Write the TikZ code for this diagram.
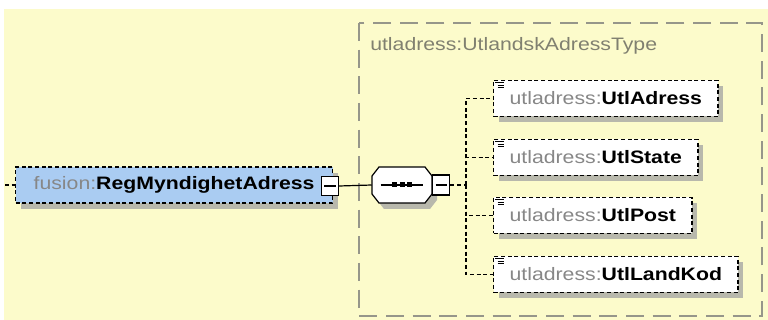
\documentclass[tikz,border=0pt]{standalone}
\usepackage{fontspec}
\newfontfamily\xsdfont[FakeStretch=1.18]{Liberation Sans}
\usetikzlibrary{positioning,shadows}

\definecolor{bgyellow}{RGB}{252,251,203}
\definecolor{elemblue}{RGB}{170,204,242}
\definecolor{pfxgray}{RGB}{135,135,135}
\definecolor{typegray}{RGB}{128,128,112}
\definecolor{shadowgray}{RGB}{184,184,172}
\definecolor{framegray}{RGB}{150,150,138}

\newcommand{\pfx}[1]{\textcolor{pfxgray}{#1}}

\tikzset{
  elemshadow/.style={drop shadow={shadow xshift=4pt, shadow yshift=-4.5pt,
      fill=shadowgray, opacity=1}},
  elembox/.style={rectangle, draw=black, line width=0.9pt,
      dash pattern=on 3pt off 2pt, elemshadow, minimum height=27pt,
      inner xsep=12pt, inner ysep=0pt,
      font=\xsdfont\fontsize{13.5pt}{16pt}\selectfont},
  childbox/.style={elembox, fill=white, anchor=west},
  minusbox/.style={rectangle, draw=black, fill=white, line width=0.9pt,
      minimum width=12.75pt, minimum height=14pt, inner sep=0pt},
  conn/.style={draw=black, line width=0.9pt, dash pattern=on 3pt off 2pt},
  octagon/.style={line width=0.9pt},
}

\begin{document}
\begin{tikzpicture}[x=0.75pt, y=-0.75pt]
\useasboundingbox (0,0) rectangle (768,320);

% ======================================================================
% BACKGROUND + COMPLEX TYPE FRAME
% ======================================================================
\fill[white]    (0,0) rectangle (768,320);
\fill[bgyellow] (4,9) rectangle (768,320);
\draw[framegray, line width=0.8pt, dash pattern=on 13.5pt off 6.5pt]
  (359,23) rectangle (762,316);
\node[anchor=west, inner sep=0pt, text=typegray,
      font=\xsdfont\fontsize{13.5pt}{16pt}\selectfont] (typelabel) at (370,46)
  {utladress:UtlandskAdressType};

% ======================================================================
% ELEMENT : fusion:RegMyndighetAdress
% ======================================================================
\node[elembox, fill=elemblue, anchor=west, minimum width=237.75pt] (elem) at (15,185)
  {\pfx{fusion:}\textbf{RegMyndighetAdress}};
\coordinate (stub) at (5,185);
\draw[conn] (stub) -- (elem.west);

\node[minusbox] (elemminus) at (330,186) {};
\draw[line width=0.9pt] ([xshift=2.5pt]elemminus.west) -- ([xshift=-2.5pt]elemminus.east);

% ======================================================================
% SEQUENCE COMPOSITOR (octagon with shadow)
% ======================================================================
\fill[shadowgray, shift={(407,191)}]
  (-30,-9) -- (-23,-18) -- (23,-18) -- (30,-9) -- (30,9) -- (23,18) -- (-23,18) -- (-30,9) -- cycle;
\filldraw[octagon, fill=white, shift={(402,185)}]
  (-30,-9) -- (-23,-18) -- (23,-18) -- (30,-9) -- (30,9) -- (23,18) -- (-23,18) -- (-30,9) -- cycle;
\node[rectangle, inner sep=0pt, minimum width=45pt, minimum height=27pt] (seq) at (402,185) {};
\draw[line width=0.9pt] (elemminus.east) -- (seq.west);
\draw[line width=0.9pt] ([xshift=-16pt]seq.center) -- ([xshift=16pt]seq.center);
\foreach \dx in {-7.5,0,7.5}{
  \fill ([xshift=\dx*0.75pt]seq.center) ++(-2.5,-2.5) rectangle ++(5,5);
}

\node[minusbox, anchor=west, minimum height=15pt] (seqminus) at (seq.east) {};
\draw[line width=0.9pt] ([xshift=2.5pt]seqminus.west) -- ([xshift=-2.5pt]seqminus.east);

% ======================================================================
% CHILD ELEMENTS
% ======================================================================
\node[childbox] (adr)     at (493,98.5)  {\pfx{utladress:}\textbf{UtlAdress}};
\node[childbox] (state)   at (493,157.5) {\pfx{utladress:}\textbf{UtlState}};
\node[childbox] (post)    at (493,215.5) {\pfx{utladress:}\textbf{UtlPost}};
\node[childbox] (landkod) at (493,274.5) {\pfx{utladress:}\textbf{UtlLandKod}};

% connectors from the compositor to each child
\coordinate (spine) at (466,185);
\draw[conn] (seqminus.east) -- (spine);
\foreach \c in {adr,state,post,landkod}{
  \draw[conn] (spine) |- (\c.west);
  % small element icon in the upper left corner
  \fill[white] ([xshift=1pt,yshift=-1pt]\c.north west) rectangle ++(9,8);
  \draw[line width=0.8pt] ([xshift=1.5pt,yshift=-2pt]\c.north west) -- ++(9,0);
  \draw[line width=0.8pt] ([xshift=3.5pt,yshift=-4pt]\c.north west) -- ++(6,0);
  \draw[line width=0.8pt] ([xshift=3.5pt,yshift=-6pt]\c.north west) -- ++(6,0);
}

\end{tikzpicture}
\end{document}
